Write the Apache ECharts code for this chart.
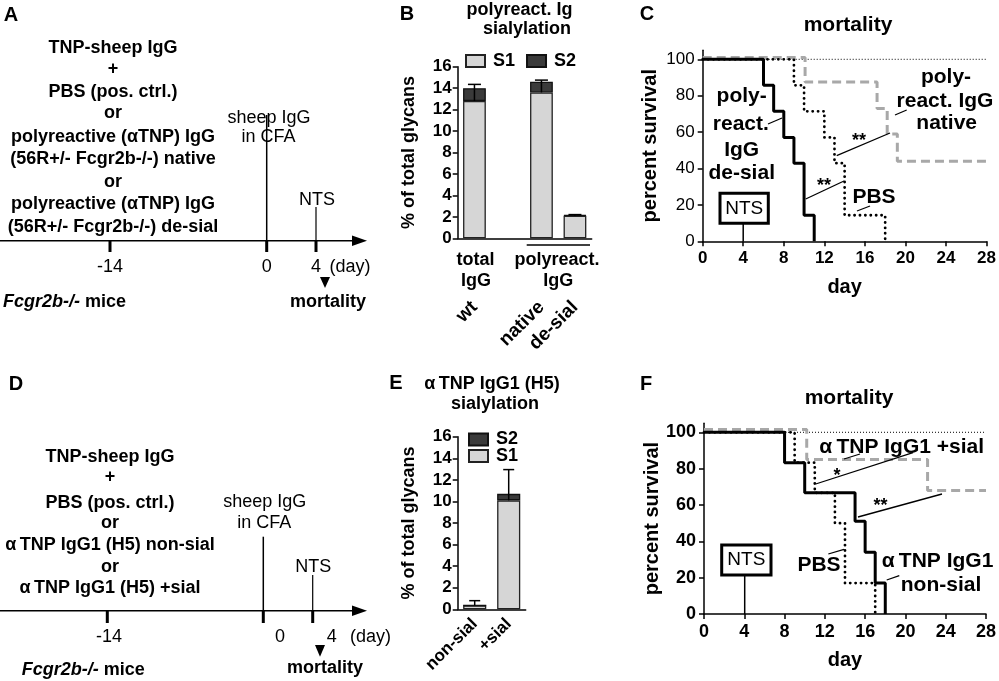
<!DOCTYPE html>
<html><head><meta charset="utf-8">
<script src="https://cdn.jsdelivr.net/npm/echarts@6/dist/echarts.min.js"></script>
<style>html,body{margin:0;padding:0;background:#fff}#main{width:999px;height:681px}</style>
</head><body><div id="main"></div>
<script>
const FONT = '"Liberation Sans", Arial, Helvetica, sans-serif';

// ---- Panel B: polyreact. Ig sialylation ----
const bCategories = ['wt', '', 'native', 'de-sial'];
const bS1 = [12.8, null, 13.6, 2.1];
const bS2 = [1.2, null, 1.0, 0.07];
const bErr = [0.35, null, 0.15, 0.04];

// ---- Panel E: aTNP IgG1 (H5) sialylation ----
const eCategories = ['non-sial', '+sial'];
const eS1 = [0.35, 10.1];
const eS2 = [0, 0.6];
const eErr = [0.45, 2.25];

// ---- Panel C: mortality (days / percent survival) ----
const cRefDays = [0, 28];
const cRefPct = [100, 100];
const cDesialDays = [0, 6, 7, 8, 9, 10, 11];
const cDesialPct = [100, 85.7, 71.4, 57.1, 42.9, 14.3, 0];
const cPbsDays = [0, 9, 10, 12, 13, 14, 18];
const cPbsPct = [100, 85.7, 71.4, 57.1, 42.9, 14.3, 0];
const cNativeDays = [0, 10.1, 17.2, 18.2, 19.2, 28];
const cNativePct = [101, 87.5, 73, 59, 44, 44];

// ---- Panel F: mortality ----
const fRefDays = [0, 28];
const fRefPct = [100, 100];
const fNonsialDays = [0, 8, 10, 15, 16, 17, 18];
const fNonsialPct = [100, 83.3, 66.7, 51, 34, 17, 0];
const fPbsDays = [0, 9, 11, 13, 14, 17];
const fPbsPct = [100, 83.3, 66.7, 50, 17, 0];
const fSialDays = [0, 10.2, 22.2, 28];
const fSialPct = [101.5, 85, 68, 68];

// tick labels
const glycanTicks = [0, 2, 4, 6, 8, 10, 12, 14, 16];
const survivalTicks = [0, 20, 40, 60, 80, 100];
const dayTicks = [0, 4, 8, 12, 16, 20, 24, 28];

const chart = echarts.init(document.getElementById('main'));

const axisLine = { lineStyle: { color: '#000', width: 1.5 } };
const axisTick = { length: 5, lineStyle: { color: '#000', width: 1.5 } };

function catX(grid, cats, margin, size) {
  return {
    type: 'category', gridIndex: grid, data: cats,
    axisLine: axisLine,
    axisTick: Object.assign({ alignWithLabel: true, interval: 0 }, axisTick),
    axisLabel: { interval: 0, rotate: 45, margin: margin, color: '#000', fontWeight: 'bold', fontSize: size, fontFamily: FONT },
    splitLine: { show: false }
  };
}
function glycY(grid) {
  return {
    type: 'value', gridIndex: grid, min: 0, max: 16, interval: 2,
    name: '% of total glycans', nameLocation: 'middle', nameGap: 40, nameRotate: 90,
    nameTextStyle: { color: '#000', fontWeight: 'bold', fontSize: 18, fontFamily: FONT },
    axisLine: Object.assign({ show: true }, axisLine), axisTick: Object.assign({ show: true }, axisTick),
    axisLabel: { margin: 6, color: '#000', fontWeight: 'bold', fontSize: 17, fontFamily: FONT,
      customValues: glycanTicks },
    splitLine: { show: false }
  };
}
function dayX(grid, size) {
  return {
    type: 'value', gridIndex: grid, min: 0, max: 28, interval: 4,
    name: 'day', nameLocation: 'middle', nameGap: 36,
    nameTextStyle: { color: '#000', fontWeight: 'bold', fontSize: 20, fontFamily: FONT },
    axisLine: axisLine, axisTick: Object.assign({ customValues: dayTicks }, axisTick),
    axisLabel: { margin: 9, color: '#000', fontWeight: 'bold', fontSize: size, fontFamily: FONT, customValues: dayTicks },
    splitLine: { show: false }
  };
}
function survY(grid, size, weight) {
  return {
    type: 'value', gridIndex: grid, min: 0, max: 105,
    name: 'percent survival', nameLocation: 'middle', nameGap: 42, nameRotate: 90,
    nameTextStyle: { color: '#000', fontWeight: 'bold', fontSize: 20, fontFamily: FONT },
    axisLine: Object.assign({ show: true }, axisLine),
    axisTick: Object.assign({ show: true, customValues: survivalTicks }, axisTick),
    axisLabel: { margin: 8, color: '#000', fontWeight: weight, fontSize: size, fontFamily: FONT, customValues: survivalTicks },
    splitLine: { show: false }
  };
}

function barSeries(name, xi, yi, stack, data, color, border) {
  return { type: 'bar', name: name, xAxisIndex: xi, yAxisIndex: yi, stack: stack, data: data,
    barWidth: '68%', itemStyle: { color: color, borderColor: border, borderWidth: 1.3 }, silent: true };
}
// error whisker: drawn from the top of S1 up to (S1+S2)+err, cap at the top
function errorSeries(xi, yi, s1, s2, err, capHalf) {
  const data = [];
  s1.forEach(function (v, i) { if (v != null && err[i] != null) data.push([i, v + (s2[i] || 0), err[i], v]); });
  return {
    type: 'custom', xAxisIndex: xi, yAxisIndex: yi, z: 5, silent: true, data: data,
    encode: { x: 0, y: 1 },
    renderItem: function (params, api) {
      const x = api.value(0), t = api.value(1), e = api.value(2), base = api.value(3);
      const lo = api.coord([x, base]);
      const hi = api.coord([x, t + e]);
      return { type: 'group', children: [
        { type: 'line', shape: { x1: lo[0], y1: lo[1], x2: hi[0], y2: hi[1] }, style: { stroke: '#000', lineWidth: 1.5 } },
        { type: 'line', shape: { x1: hi[0] - capHalf, y1: hi[1], x2: hi[0] + capHalf, y2: hi[1] }, style: { stroke: '#000', lineWidth: 1.5 } }
      ] };
    }
  };
}
function km(name, xi, yi, days, pct, lineStyle, z) {
  return { type: 'line', name: name, xAxisIndex: xi, yAxisIndex: yi, step: 'end', symbol: 'none',
    data: days.map(function (d, i) { return [d, pct[i]]; }), lineStyle: lineStyle, z: z, silent: true };
}
const solid = { color: '#000', width: 3, type: 'solid' };
const dotted = { color: '#000', width: 2.8, type: [0.1, 5.3], cap: 'round' };
const dashed = { color: '#a8a8a8', width: 3, type: [9, 5] };
const refDot = { color: '#000', width: 1, type: [1, 2] };

// ---------- graphic helpers ----------
function T(x, y, text, size, weight, extra) {
  const el = { type: 'text', x: x, y: y, z: 100, silent: true,
    style: { text: text, fontSize: size, fontWeight: weight || 'normal', fontFamily: FONT, fill: '#000',
      align: 'center', verticalAlign: 'middle', textAlign: 'center', textVerticalAlign: 'middle' } };
  if (extra) Object.assign(el.style, extra);
  return el;
}
function L(x1, y1, x2, y2, w) {
  return { type: 'line', z: 100, silent: true, shape: { x1: x1, y1: y1, x2: x2, y2: y2 }, style: { stroke: '#000', lineWidth: w || 1.3 } };
}
function P(points) { return { type: 'polygon', z: 100, silent: true, shape: { points: points }, style: { fill: '#000' } }; }
function R(x, y, w, h) { return { type: 'rect', z: 100, silent: true, shape: { x: x, y: y, width: w, height: h }, style: { fill: '#fff', stroke: '#000', lineWidth: 3 } }; }
function mice(x, y) {
  return { type: 'text', x: x, y: y, z: 100, silent: true,
    style: { text: '{i|Fcgr2b-/-} {b|mice}', align: 'left', textAlign: 'left', verticalAlign: 'middle', textVerticalAlign: 'middle',
      fontFamily: FONT, fontSize: 18, fontWeight: 'bold', fill: '#000',
      rich: { i: { fontStyle: 'italic', fontWeight: 'bold', fontSize: 18, fontFamily: FONT },
              b: { fontWeight: 'bold', fontSize: 18, fontFamily: FONT } } } };
}

const g = [];
// Panel letters
g.push(T(11, 15, 'A', 20, 'bold'), T(407, 14, 'B', 20, 'bold'), T(647, 14, 'C', 20, 'bold'),
       T(16, 384, 'D', 20, 'bold'), T(396, 383, 'E', 20, 'bold'), T(646, 384, 'F', 20, 'bold'));

// Panel A schematic
const aLines = ['TNP-sheep IgG', '+', 'PBS (pos. ctrl.)', 'or', 'polyreactive (\u03b1TNP) IgG',
  '(56R+/- Fcgr2b-/-) native', 'or', 'polyreactive (\u03b1TNP) IgG', '(56R+/- Fcgr2b-/-) de-sial'];
const aY = [48, 69, 92, 113, 137, 159, 182, 204, 227];
aLines.forEach(function (s, i) { g.push(T(113, aY[i], s, 18, 'bold')); });
g.push(T(269, 118, 'sheep IgG', 18), T(268.5, 137, 'in CFA', 18), T(317, 200, 'NTS', 18));
g.push(L(0, 240.7, 355, 240.7, 1.5), P([[352, 235.5], [367, 240.7], [352, 246]]));
g.push(L(110, 240, 110, 252, 3), L(266.7, 115, 266.7, 241, 1.5), L(266.7, 240, 266.7, 252, 3),
       L(316, 207, 316, 241, 1.2), L(316, 240, 316, 252, 3));
g.push(T(110, 267, '-14', 18), T(266.7, 267, '0', 18), T(316, 267, '4', 18), T(350, 267, '(day)', 18));
g.push(P([[320, 277], [330, 277], [325, 288]]), T(328, 302, 'mortality', 18, 'bold'), mice(3, 302));

// Panel D schematic
const dLines = ['TNP-sheep IgG', '+', 'PBS (pos. ctrl.)', 'or', '\u03b1\u2009TNP IgG1 (H5) non-sial', 'or', '\u03b1\u2009TNP IgG1 (H5) +sial'];
const dY = [456.7, 476.7, 503.3, 523.3, 545, 566.7, 588.3];
dLines.forEach(function (s, i) { g.push(T(110, dY[i], s, 18, 'bold')); });
g.push(T(264.7, 502.3, 'sheep IgG', 18), T(264.3, 522.7, 'in CFA', 18), T(313.3, 566.7, 'NTS', 18));
g.push(L(0, 610.7, 355, 610.7, 1.5), P([[352, 605.5], [367, 610.7], [352, 616]]));
g.push(L(107.3, 610, 107.3, 623, 3), L(263.3, 536.7, 263.3, 611, 1.5), L(263.3, 610, 263.3, 623, 3),
       L(312.7, 575, 312.7, 611, 1.2), L(312.7, 610, 312.7, 623, 3));
g.push(T(109, 637, '-14', 18), T(280, 637, '0', 18), T(331.7, 637, '4', 18), T(370.5, 637, '(day)', 18));
g.push(P([[315, 645], [325, 645], [320, 656.7]]), T(325, 668.3, 'mortality', 18, 'bold'), mice(21.7, 670));

// Panel B titles and group labels
g.push(T(519.5, 10, 'polyreact. Ig', 18, 'bold'), T(527, 29, 'sialylation', 18, 'bold'));
g.push(T(475.5, 260, 'total', 18, 'bold'), T(476, 281, 'IgG', 18, 'bold'),
       T(557, 260, 'polyreact.', 18, 'bold'), T(558.3, 281, 'IgG', 18, 'bold'), L(526.7, 245, 590, 245, 1.5));

// Panel E titles
g.push(T(492, 384, '\u03b1\u2009TNP IgG1 (H5)', 18, 'bold'), T(495, 404, 'sialylation', 18, 'bold'));

// Panel C annotations
g.push(T(848, 25, 'mortality', 21, 'bold'));
g.push(T(741.7, 96.7, 'poly-', 21, 'bold'), T(740.8, 124, 'react.', 21, 'bold'), T(741.7, 150, 'IgG', 21, 'bold'), T(741.7, 173.3, 'de-sial', 21, 'bold'));
g.push(L(768, 124, 782, 118));
g.push(T(824, 186.5, '**', 18, 'bold'), L(805.7, 199, 844, 181));
g.push(T(859, 141.5, '**', 18, 'bold'), L(836.7, 155.7, 890, 133));
g.push(T(946, 77, 'poly-', 21, 'bold'), T(945, 101, 'react. IgG', 21, 'bold'), T(946.7, 123.5, 'native', 21, 'bold'));
g.push(L(895, 115, 906.7, 110));
g.push(T(874, 197.5, 'PBS', 21, 'bold'), L(857, 211, 870, 206));
g.push(R(720, 193.3, 48.3, 30), T(744.2, 208.3, 'NTS', 19), L(743.2, 223.3, 743.2, 241.3, 1.5));

// Panel F annotations
g.push(T(849, 398, 'mortality', 21, 'bold'));
g.push(T(901.7, 447.5, '\u03b1\u2009TNP IgG1 +sial', 21, 'bold'), L(844, 459, 860, 454));
g.push(T(837, 476, '*', 18, 'bold'), L(815.7, 484, 913, 452.7));
g.push(T(880.5, 506, '**', 18, 'bold'), L(858, 517, 942, 494));
g.push(T(819, 565, 'PBS', 21, 'bold'), L(828.3, 554, 844, 549.3));
g.push(T(937.5, 561.7, '\u03b1\u2009TNP IgG1', 21, 'bold'), T(941, 585.5, 'non-sial', 21, 'bold'), L(886.7, 580, 899.3, 575.7));
g.push(R(721.7, 545, 49.3, 30), T(746.3, 560, 'NTS', 19), L(744.7, 575, 744.7, 614, 1.5));

const legendText = { color: '#000', fontWeight: 'bold', fontSize: 18, fontFamily: FONT, padding: [0, 0, 0, 3] };
function legendAt(names, left, top) {
  return { data: names, left: left, top: top, icon: 'rect', itemWidth: 19, itemHeight: 12, itemGap: 11,
    selectedMode: false, padding: 0, textStyle: legendText };
}
const option = {
  animation: false,
  backgroundColor: '#fff',
  textStyle: { fontFamily: FONT },
  grid: [
    { left: 457.7, top: 66.7, width: 134, height: 171.6 },   // B
    { left: 702.7, top: 50.2, width: 285.3, height: 191.1 }, // C
    { left: 457.7, top: 436.7, width: 68, height: 172.6 },   // E
    { left: 704, top: 423.2, width: 285, height: 190.8 }     // F
  ],
  xAxis: [catX(0, bCategories, 66, 19), dayX(1, 17), catX(2, eCategories, 12, 17), dayX(3, 18)],
  yAxis: [glycY(0), survY(1, 17, 'normal'), glycY(2), survY(3, 18, 'bold')],
  legend: [
    legendAt(['S1', 'S2'], 465, 52),
    legendAt(['S2'], 468, 430.5),
    legendAt(['S1'], 468, 447)
  ],
  series: [
    barSeries('S1', 0, 0, 'b', bS1, '#d6d6d6', '#222'),
    barSeries('S2', 0, 0, 'b', bS2, '#3a3a3a', '#111'),
    errorSeries(0, 0, bS1, bS2, bErr, 6.5),
    barSeries('S1', 2, 2, 'e', eS1, '#d6d6d6', '#222'),
    barSeries('S2', 2, 2, 'e', eS2, '#3a3a3a', '#111'),
    errorSeries(2, 2, eS1, eS2, eErr, 5.5),
    km('C ref', 1, 1, cRefDays, cRefPct, refDot, 1),
    km('polyreact. IgG native', 1, 1, cNativeDays, cNativePct, dashed, 2),
    km('PBS', 1, 1, cPbsDays, cPbsPct, dotted, 3),
    km('polyreact. IgG de-sial', 1, 1, cDesialDays, cDesialPct, solid, 4),
    km('F ref', 3, 3, fRefDays, fRefPct, refDot, 1),
    km('aTNP IgG1 +sial', 3, 3, fSialDays, fSialPct, dashed, 2),
    km('PBS F', 3, 3, fPbsDays, fPbsPct, dotted, 3),
    km('aTNP IgG1 non-sial', 3, 3, fNonsialDays, fNonsialPct, solid, 4)
  ],
  graphic: { elements: g }
};
chart.setOption(option);
</script></body></html>
